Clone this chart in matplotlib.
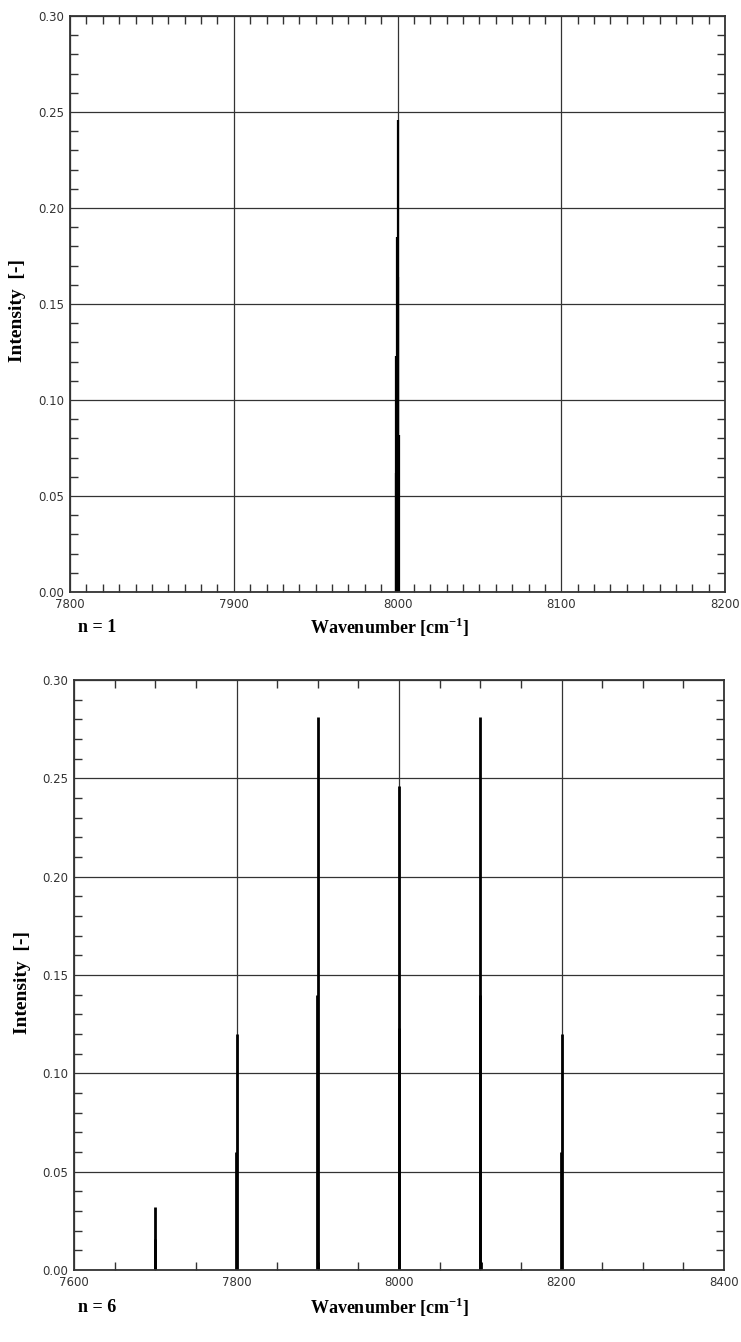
import matplotlib
matplotlib.use("Agg")
import matplotlib.pyplot as plt
from matplotlib.ticker import MultipleLocator, FormatStrFormatter

plt.rcParams["mathtext.fontset"] = "custom"
plt.rcParams["mathtext.bf"] = "Liberation Serif:bold"
plt.rcParams["mathtext.rm"] = "Liberation Serif:bold"

# n = 1 : single line cluster around 8000 cm-1
n1_pos = [7998.8, 7999.2, 7999.6, 8000.0, 8000.5, 8000.9]
n1_int = [0.062, 0.123, 0.185, 0.246, 0.164, 0.082]

# n = 6 : sideband clusters (position, intensity)
n6_pos = [7700.0, 7699.6,
          7800.0, 7799.6,
          7900.0, 7899.6, 7900.4,
          8000.0, 7999.6,
          8100.0, 8099.6, 8100.4,
          8200.0, 8199.6]
n6_int = [0.032, 0.016,
          0.120, 0.060,
          0.281, 0.140, 0.004,
          0.246, 0.123,
          0.281, 0.140, 0.004,
          0.120, 0.060]

W, H = 741, 1342
fig = plt.figure(figsize=(W / 100, H / 100), dpi=100)

label_font = dict(family="Liberation Serif", weight="bold", size=13)
xlabel_txt = "Wavenumber [cm$^{\\mathbf{-1}}$]"


def style_axes(ax, xlim, xmajor, xminor):
    ax.set_xlim(*xlim)
    ax.set_ylim(0, 0.30)
    ax.xaxis.set_major_locator(MultipleLocator(xmajor))
    ax.xaxis.set_minor_locator(MultipleLocator(xminor))
    ax.yaxis.set_major_locator(MultipleLocator(0.05))
    ax.yaxis.set_minor_locator(MultipleLocator(0.01))
    ax.yaxis.set_major_formatter(FormatStrFormatter("%.2f"))
    ax.xaxis.set_major_formatter(FormatStrFormatter("%d"))
    ax.grid(True, which="major", color="#333333", lw=0.9)
    ax.set_axisbelow(True)
    ax.tick_params(which="both", direction="in", top=True, right=True,
                   labelsize=8.5, labelcolor="#333333", color="#333333")
    ax.tick_params(which="major", length=0, pad=4)
    ax.tick_params(which="minor", length=6, width=1.0)
    for s in ax.spines.values():
        s.set_linewidth(1.3)
        s.set_color("#333333")


ax1 = fig.add_axes([70 / W, 1 - 592 / H, (725 - 70) / W, (592 - 16) / H])
style_axes(ax1, (7800, 8200), 100, 10)
ax1.vlines(n1_pos, 0, n1_int, color="black", lw=1.6)
fig.text(18 / W, 1 - 310 / H, "Intensity  [-]", rotation=90,
         ha="center", va="center", family="Liberation Serif",
         weight="bold", size=14)
fig.text(78 / W, 1 - 627 / H, "n = 1", ha="left", va="center", **label_font)
fig.text(310 / W, 1 - 627 / H, xlabel_txt, ha="left", va="center", **label_font)

ax2 = fig.add_axes([74 / W, 1 - 1270 / H, (724 - 74) / W, (1270 - 680) / H])
style_axes(ax2, (7600, 8400), 200, 50)
ax2.vlines(n6_pos, 0, n6_int, color="black", lw=2.0)
fig.text(23 / W, 1 - 983 / H, "Intensity  [-]", rotation=90,
         ha="center", va="center", family="Liberation Serif",
         weight="bold", size=14)
fig.text(78 / W, 1 - 1307 / H, "n = 6", ha="left", va="center", **label_font)
fig.text(310 / W, 1 - 1307 / H, xlabel_txt, ha="left", va="center", **label_font)

fig.savefig("out.png", dpi=100)
